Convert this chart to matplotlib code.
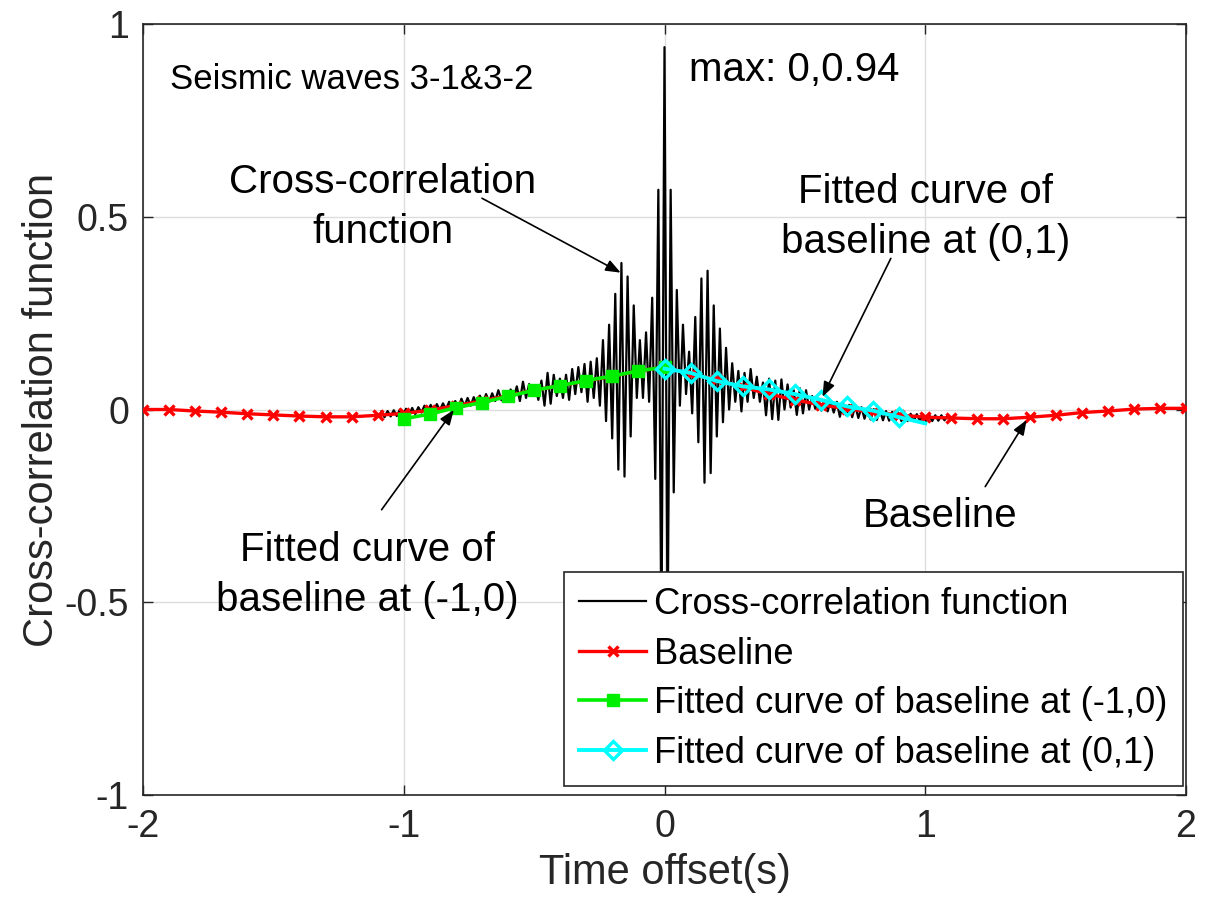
import numpy as np
import matplotlib
matplotlib.use("Agg")
import matplotlib.pyplot as plt

plt.rcParams['font.family'] = ['Liberation Sans', 'DejaVu Sans']

# ---------------- data ----------------
# cross-correlation function: alternating extrema, half period apart
cc_half_period = 0.0118
cc_peaks = [
    -0.005, -0.004, -0.002, 0.000, 0.002, 0.004, 0.006, 0.010, 0.012, 0.014,
    0.016, 0.020, 0.022, 0.028, 0.030, 0.032, 0.036, 0.040, 0.042, 0.050,
    0.048, 0.052, 0.060, 0.072, 0.066, 0.062, 0.075, 0.095, 0.090, 0.080,
    0.090, 0.105, 0.110, 0.118, 0.124, 0.133, 0.180, 0.220, 0.300, 0.380,
    0.345, 0.270, 0.180, 0.200, 0.290, 0.570,
    0.940,
    0.570, 0.310, 0.220, 0.150, 0.240, 0.340, 0.360, 0.270, 0.210, 0.160,
    0.120, 0.100, 0.095, 0.105, 0.085, 0.070, 0.080, 0.075, 0.078, 0.065,
    0.050, 0.055, 0.050, 0.035, 0.028, 0.025, 0.022, 0.020, 0.017, 0.012,
    0.010, 0.006, 0.004, 0.001, -0.002, -0.004, -0.006, -0.008, -0.010, -0.011,
    -0.012, -0.013, -0.014, -0.015, -0.015, -0.016,
]
cc_troughs = [
    -0.020, -0.018, -0.017, -0.015, -0.013, -0.012, -0.008, -0.006, -0.004, -0.002,
    0.000, 0.002, 0.004, 0.008, 0.010, 0.012, 0.015, 0.020, 0.022, 0.024,
    0.028, 0.030, 0.022, 0.030, 0.035, 0.025, 0.010, 0.015, 0.035, 0.030,
    0.025, 0.040, 0.045, 0.020, 0.030, 0.010, -0.030, -0.075, -0.156, -0.174,
    -0.070, 0.030, 0.030, 0.020, -0.180, -0.620,
    -0.600, -0.215, 0.010, 0.040, -0.010, -0.085, -0.190, -0.165, -0.070, -0.033,
    0.000, 0.020, -0.005, 0.020, 0.030, 0.020, -0.015, -0.025, -0.027, 0.000,
    0.005, -0.014, -0.010, 0.000, 0.002, -0.003, -0.005, -0.008, -0.019, -0.015,
    -0.020, -0.022, -0.024, -0.026, -0.027, -0.028, -0.029, -0.030, -0.030, -0.030,
    -0.030, -0.030, -0.030, -0.030, -0.029, -0.028,
]

# baseline, sampled every 0.1 s from -2 to 2
baseline_t = np.round(np.arange(-2.0, 2.0001, 0.1), 2)
baseline_v = [
    0.000, 0.000, -0.004, -0.007, -0.011, -0.014, -0.017, -0.019, -0.019, -0.015,
    -0.010, -0.002, 0.010, 0.022, 0.036, 0.050, 0.062, 0.074, 0.086, 0.100,
    0.110,
    0.092, 0.078, 0.058, 0.040, 0.025, 0.012, 0.002, -0.007, -0.014, -0.020,
    -0.022, -0.024, -0.024, -0.020, -0.015, -0.008, -0.004, 0.001, 0.003, 0.003,
]

# fitted curves
fit_left_t = np.round(np.arange(-1.0, 0.0001, 0.1), 2)
fit_left_v = [-0.024, -0.012, 0.005, 0.018, 0.034, 0.050, 0.062, 0.075, 0.087, 0.100, 0.110]
fit_right_t = np.round(np.arange(0.0, 1.0001, 0.1), 2)
fit_right_v = [0.106, 0.095, 0.074, 0.060, 0.052, 0.040, 0.025, 0.008, -0.003, -0.020, -0.036]

x_ticks = [-2, -1, 0, 1, 2]
y_ticks = [-1, -0.5, 0, 0.5, 1]
y_ticklabels = ['-1', '-0.5', '0', '0.5', '1']

# ---------------- build cc series ----------------
n_ext = len(cc_peaks) + len(cc_troughs)
cc_v = np.empty(n_ext)
cc_v[0::2] = cc_peaks
cc_v[1::2] = cc_troughs
half = (n_ext - 1) // 2
cc_t = np.arange(-half, half + 1) * cc_half_period

# ---------------- figure ----------------
fig = plt.figure(figsize=(12.08, 9.15), dpi=100)
ax = fig.add_axes([143/1208, 1 - 795/915, (1186 - 143)/1208, (795 - 24)/915])

ax.plot(cc_t, cc_v, color='black', lw=1.6, label='Cross-correlation function', zorder=3)
ax.plot(baseline_t, baseline_v, color='red', lw=2.4, marker='x', ms=7, mew=2.4,
        label='Baseline', zorder=4)
ax.plot(fit_left_t, fit_left_v, color='#00ee00', lw=2.6, marker='s', ms=8.5,
        mfc='#00ee00', mec='#00ee00', label='Fitted curve of baseline at (-1,0)', zorder=5)
ax.plot(fit_right_t, fit_right_v, color='cyan', lw=2.8, marker='D', ms=9, mfc='none',
        mec='cyan', mew=2.4, markevery=slice(0, len(fit_right_t) - 1),
        label='Fitted curve of baseline at (0,1)', zorder=6)

ax.set_xlim(-2, 2)
ax.set_ylim(-1, 1)
ax.set_xticks(x_ticks)
ax.set_xticklabels([str(v) for v in x_ticks])
ax.set_yticks(y_ticks)
ax.set_yticklabels(y_ticklabels)
ax.tick_params(direction='in', length=7, width=1, labelsize=27, pad=10,
               top=True, right=True, colors='#262626')
ax.grid(True, color='#dddddd', lw=1)
ax.set_axisbelow(True)
for s in ax.spines.values():
    s.set_color('#262626')
    s.set_linewidth(1.2)

ax.set_xlabel('Time offset(s)', fontsize=30, color='#262626', labelpad=6)
ax.set_ylabel('Cross-correlation function', fontsize=30, color='#262626', labelpad=2)

# texts
ax.text(-1.895, 0.855, 'Seismic waves 3-1&3-2', fontsize=25, va='center', ha='left')
ax.text(0.094, 0.88, 'max: 0,0.94', fontsize=29, va='center', ha='left')

ax.text(-1.08, 0.525, 'Cross-correlation\nfunction', fontsize=29, ha='center',
        va='center', linespacing=1.4)
ax.text(1.0, 0.50, 'Fitted curve of\nbaseline at (0,1)', fontsize=29, ha='center',
        va='center', linespacing=1.4)
ax.text(-1.14, -0.43, 'Fitted curve of\nbaseline at (-1,0)', fontsize=29, ha='center',
        va='center', linespacing=1.4)
ax.text(1.057, -0.275, 'Baseline', fontsize=29, ha='center', va='center')

arrow = dict(arrowstyle='-|>,head_length=0.9,head_width=0.35', color='black', lw=1.2,
             shrinkA=0, shrinkB=0)
ax.annotate('', xy=(-0.168, 0.355), xytext=(-0.70, 0.548), arrowprops=arrow, zorder=7)
ax.annotate('', xy=(0.606, 0.033), xytext=(0.868, 0.392), arrowprops=arrow, zorder=7)
ax.annotate('', xy=(-0.808, -0.001), xytext=(-1.085, -0.26), arrowprops=arrow, zorder=7)
ax.annotate('', xy=(1.389, -0.027), xytext=(1.23, -0.20), arrowprops=arrow, zorder=7)

leg = ax.legend(loc='lower right', bbox_to_anchor=(1 - 3/1043, 9/771), borderaxespad=0,
                fontsize=26.2, frameon=True, fancybox=False, framealpha=1,
                edgecolor='#262626', handlelength=1.85, handletextpad=0.22,
                labelspacing=0.4, borderpad=0.42)
leg.get_frame().set_linewidth(1.2)
leg.set_zorder(10)

fig.savefig('out.png', dpi=100)
